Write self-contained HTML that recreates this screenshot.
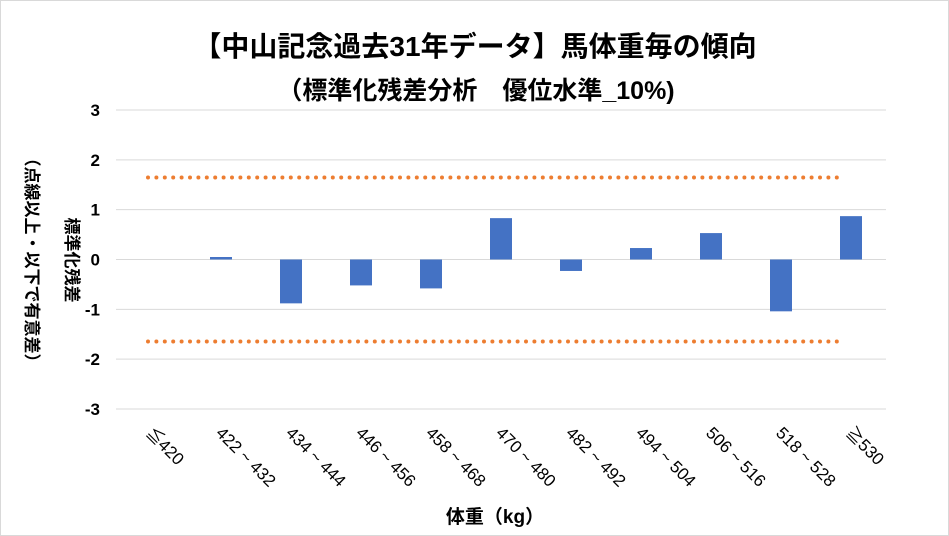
<!DOCTYPE html>
<html><head><meta charset="utf-8"><style>
html,body{margin:0;padding:0;background:#fff;}
svg{display:block;font-family:"Liberation Sans","Noto Sans CJK JP",sans-serif;}
</style></head><body>
<svg id="chart" width="949" height="536" viewBox="0 0 949 536">
<rect x="0.5" y="0.5" width="948" height="535" fill="#fff" stroke="#d9d9d9"/>
<text x="475" y="56" text-anchor="middle" font-size="28" font-weight="bold" fill="#000">【中山記念過去31年データ】馬体重毎の傾向</text>
<text x="476" y="99" text-anchor="middle" font-size="25" font-weight="bold" fill="#000">（標準化残差分析　優位水準_10%)</text>
<g id="grid"></g>
<g id="yticks"></g>
<g id="refs"></g>
<g id="bars"></g>
<g id="xticks"></g>
<text transform="translate(66,260) rotate(90)" text-anchor="middle" font-size="17" font-weight="bold">標準化残差</text>
<text transform="translate(26,260) rotate(90)" text-anchor="middle" font-size="17" font-weight="bold">（点線以上・以下で有意差）</text>
<text x="495" y="523" text-anchor="middle" font-size="19" font-weight="bold">体重（kg）</text>
</svg>
<script>
const categories = ["≦420","422 ~ 432","434 ~ 444","446 ~ 456","458 ~ 468","470 ~ 480","482 ~ 492","494 ~ 504","506 ~ 516","518 ~ 528","≧530"];
const values = [0, 0.05, -0.88, -0.52, -0.58, 0.83, -0.23, 0.23, 0.53, -1.04, 0.87];
const yTicks = [3, 2, 1, 0, -1, -2, -3];
const threshold = [1.645, -1.645];
const NS = "http://www.w3.org/2000/svg";
const x0 = 116, x1 = 886, yTop = 110, yBot = 409, vMax = 3, vMin = -3;
const band = (x1 - x0) / categories.length;
const xc = i => x0 + band * (i + 0.5);
const y = v => yTop + (vMax - v) / (vMax - vMin) * (yBot - yTop);
function mk(tag, attrs, parent) { const e = document.createElementNS(NS, tag); for (const k in attrs) e.setAttribute(k, attrs[k]); parent.appendChild(e); return e; }
const grid = document.getElementById('grid'), yt = document.getElementById('yticks');
yTicks.forEach(t => {
  const l = mk('line', {x1: x0, x2: x1, y1: y(t), y2: y(t), stroke: '#d9d9d9', 'stroke-width': 1}, grid);
  
  
  const tx = mk('text', {x: 100, y: y(t) + 6, 'text-anchor': 'end', 'font-size': 17, 'font-weight': 'bold'}, yt);
  tx.textContent = t;
  
  
});
const refs = document.getElementById('refs');
threshold.forEach(v => {
  const l = mk('line', {x1: x0 + 32, x2: x1 - 42, y1: y(v), y2: y(v), stroke: '#ed7d31', 'stroke-width': 4, 'stroke-dasharray': '0 8.4', 'stroke-linecap': 'round'}, refs);
  
  
});
const bars = document.getElementById('bars');
values.forEach((v, i) => {
  const bw = 22;
  const r = mk('rect', {x: xc(i) - bw / 2, y: Math.min(y(v), y(0)), width: bw, height: Math.abs(y(v) - y(0)), fill: '#4472c4'}, bars);
  
  
});
const xt = document.getElementById('xticks');
categories.forEach((c, i) => {
  const px = xc(i) - 6, py = 434;
  const t = mk('text', {x: px, y: py, 'font-size': 17, transform: `rotate(45 ${px} ${py})`}, xt);
  t.textContent = c;
  
  
});
</script>
</body></html>
